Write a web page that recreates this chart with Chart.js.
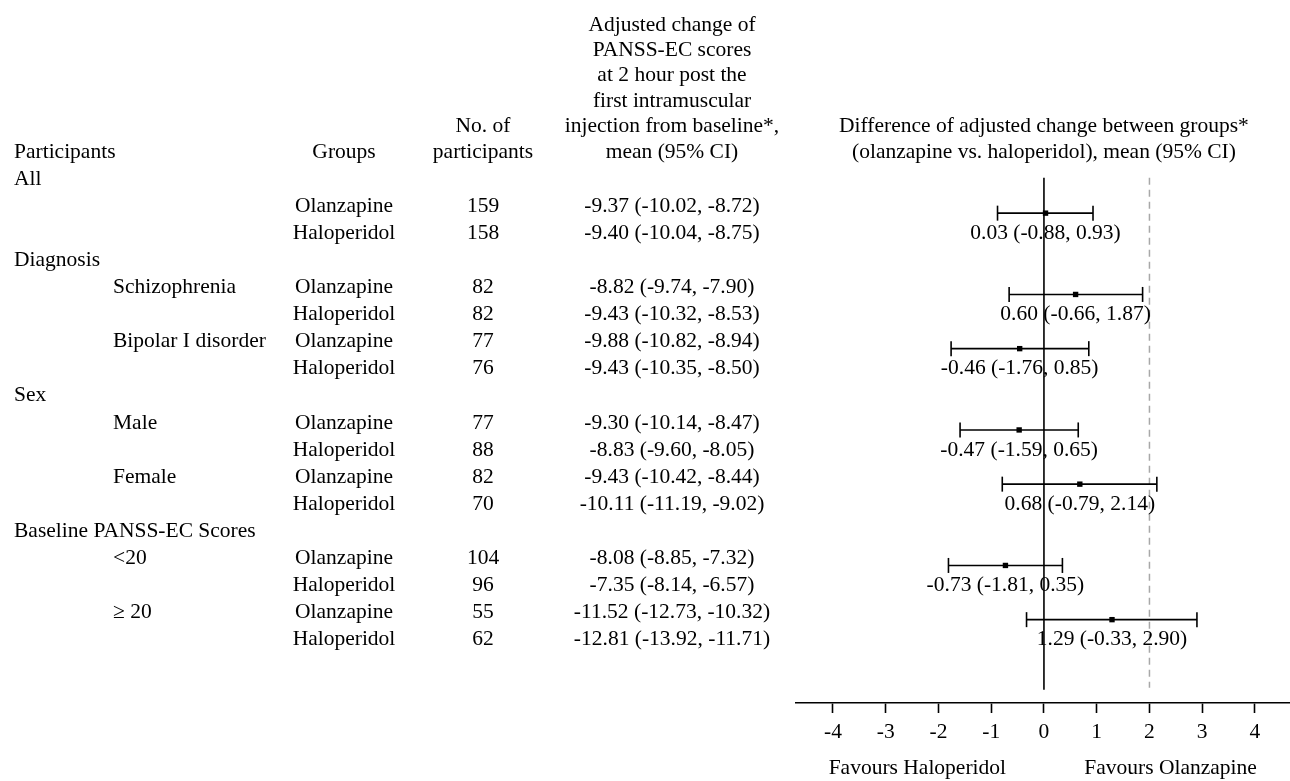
<!DOCTYPE html>
<html>
<head>
<meta charset="utf-8">
<script src="https://cdn.jsdelivr.net/npm/chart.js@4.4.1/dist/chart.umd.min.js"></script>
<style>
  html, body { margin: 0; padding: 0; background: #fff; }
  #wrap { position: relative; width: 1290px; height: 781px; }
</style>
</head>
<body>
<div id="wrap"><canvas id="forest"></canvas></div>
<script>
// table structure
const sections = ['All', 'Diagnosis', 'Sex', 'Baseline PANSS-EC Scores'];
const subgroups = ['', 'Schizophrenia', 'Bipolar I disorder', 'Male', 'Female', '<20', '\u2265 20'];
const sectionOf = [0, 1, 1, 2, 2, 3, 3];
const groupNames = ['Olanzapine', 'Haloperidol'];

// number of participants
const olzN = [159, 82, 77, 77, 82, 104, 55];
const halN = [158, 82, 76, 88, 70, 96, 62];

// adjusted change of PANSS-EC at 2 h, mean (95% CI)
const olzMean = [-9.37, -8.82, -9.88, -9.30, -9.43, -8.08, -11.52];
const olzLow  = [-10.02, -9.74, -10.82, -10.14, -10.42, -8.85, -12.73];
const olzHigh = [-8.72, -7.90, -8.94, -8.47, -8.44, -7.32, -10.32];
const halMean = [-9.40, -9.43, -9.43, -8.83, -10.11, -7.35, -12.81];
const halLow  = [-10.04, -10.32, -10.35, -9.60, -11.19, -8.14, -13.92];
const halHigh = [-8.75, -8.53, -8.50, -8.05, -9.02, -6.57, -11.71];

// difference olanzapine vs haloperidol
const diffMean = [0.03, 0.60, -0.46, -0.47, 0.68, -0.73, 1.29];
const diffLow  = [-0.88, -0.66, -1.76, -1.59, -0.79, -1.81, -0.33];
const diffHigh = [0.93, 1.87, 0.85, 0.65, 2.14, 0.35, 2.90];

const tickValues = [-4, -3, -2, -1, 0, 1, 2, 3, 4];

// --- layout helpers ---
const FONT = '21.5px "Liberation Serif", "Times New Roman", serif';
const ROW_H = 27.1;      // px per table row
const ROW0_Y = 179;      // centre of first table row
const AXIS_Y = 703;      // x axis line
const ciShift = 0.26;    // CI line sits a bit under the olanzapine row

const fmt = (m, l, h) => `${m.toFixed(2)} (${l.toFixed(2)}, ${h.toFixed(2)})`;

// build the table rows
const rows = [];
const olzRow = [];
subgroups.forEach((s, i) => {
  if (i === 0 || sectionOf[i] !== sectionOf[i - 1]) rows.push({ head: sections[sectionOf[i]] });
  olzRow.push(rows.length);
  rows.push({ sub: s, grp: groupNames[0], n: olzN[i], ci: fmt(olzMean[i], olzLow[i], olzHigh[i]) });
  rows.push({ sub: '', grp: groupNames[1], n: halN[i], ci: fmt(halMean[i], halLow[i], halHigh[i]) });
});

const yTop = -0.05;
const yBottom = rows.length + 0.85;

const ciSets = subgroups.map((s, i) => ({
  data: [{ x: diffLow[i], y: olzRow[i] + ciShift }, { x: diffHigh[i], y: olzRow[i] + ciShift }],
  showLine: true,
  borderColor: '#000',
  borderWidth: 1.6,
  pointStyle: 'line',
  pointRotation: 90,
  pointRadius: 7.5,
  pointBorderWidth: 1.6,
  pointBorderColor: '#000'
}));

const tablePlugin = {
  id: 'tableText',
  afterDraw(chart) {
    const { ctx, scales: { x, y } } = chart;
    const yRow = r => y.getPixelForValue(r);
    ctx.save();
    ctx.font = FONT;
    ctx.fillStyle = '#000';
    ctx.textBaseline = 'middle';

    const colLabel = 14, colSub = 113, colGroup = 344, colN = 483, colMean = 672;
    const lineH = 25.4;
    const hy = yRow(-1);

    // headers
    ctx.textAlign = 'left';
    ctx.fillText('Participants', colLabel, hy);
    ctx.textAlign = 'center';
    ctx.fillText('Groups', colGroup, hy);
    ['No. of', 'participants'].forEach((t, k, a) => ctx.fillText(t, colN, hy - (a.length - 1 - k) * lineH));
    const adjHead = ['Adjusted change of', 'PANSS-EC scores', 'at 2 hour post the',
      'first intramuscular', 'injection from baseline*,', 'mean (95% CI)'];
    adjHead.forEach((t, k, a) => ctx.fillText(t, colMean, hy - (a.length - 1 - k) * lineH));
    const diffHead = ['Difference of adjusted change between groups*', '(olanzapine vs. haloperidol), mean (95% CI)'];
    diffHead.forEach((t, k, a) => ctx.fillText(t, x.getPixelForValue(0), hy - (a.length - 1 - k) * lineH));

    // body
    rows.forEach((r, i) => {
      const py = yRow(i);
      if (r.head) {
        ctx.textAlign = 'left';
        ctx.fillText(r.head, colLabel, py);
        return;
      }
      ctx.textAlign = 'left';
      if (r.sub) ctx.fillText(r.sub, colSub, py);
      ctx.textAlign = 'center';
      ctx.fillText(r.grp, colGroup, py);
      ctx.fillText(String(r.n), colN, py);
      ctx.fillText(r.ci, colMean, py);
    });

    // difference labels under each CI
    ctx.textAlign = 'center';
    subgroups.forEach((s, i) => {
      ctx.fillText(fmt(diffMean[i], diffLow[i], diffHigh[i]), x.getPixelForValue(diffMean[i]), yRow(olzRow[i] + 1));
    });

    // favours labels
    ctx.fillText('Favours Haloperidol', x.getPixelForValue(-2.4), 768);
    ctx.fillText('Favours Olanzapine', x.getPixelForValue(2.4), 768);
    ctx.restore();
  }
};

new Chart(document.getElementById('forest'), {
  type: 'scatter',
  data: {
    datasets: [
      {
        data: diffMean.map((m, i) => ({ x: m, y: olzRow[i] + ciShift })),
        pointStyle: 'rect',
        pointRadius: 3.8,
        pointBackgroundColor: '#000',
        pointBorderWidth: 0
      },
      ...ciSets,
      {
        data: [{ x: 0, y: yTop }, { x: 0, y: yBottom }],
        showLine: true, borderColor: '#000', borderWidth: 1.6, pointRadius: 0
      },
      {
        data: [{ x: 2, y: yTop }, { x: 2, y: yBottom - 0.08 }],
        showLine: true, borderColor: '#a8a8a8', borderWidth: 1.5, borderDash: [7, 5], pointRadius: 0
      }
    ]
  },
  options: {
    responsive: true,
    maintainAspectRatio: false,
    animation: false,
    events: [],
    layout: { autoPadding: false, padding: { left: 796, right: 0, top: 0, bottom: 0 } },
    plugins: { legend: { display: false }, tooltip: { enabled: false } },
    scales: {
      x: {
        type: 'linear',
        min: -4.7,
        max: 4.664,
        afterBuildTicks: s => { s.ticks = tickValues.map(v => ({ value: v })); },
        afterFit: s => { s.height = 781 - AXIS_Y; },
        grid: { drawOnChartArea: false, drawTicks: true, tickLength: 10, tickColor: '#000', tickWidth: 1.6 },
        border: { display: true, color: '#000', width: 1.6 },
        ticks: {
          color: '#000',
          padding: 6,
          maxRotation: 0,
          autoSkip: false,
          font: { family: '"Liberation Serif", "Times New Roman", serif', size: 21.5 }
        }
      },
      y: {
        type: 'linear',
        display: false,
        reverse: true,
        min: -ROW0_Y / ROW_H,
        max: (AXIS_Y - ROW0_Y) / ROW_H
      }
    }
  },
  plugins: [tablePlugin]
});
</script>
</body>
</html>
